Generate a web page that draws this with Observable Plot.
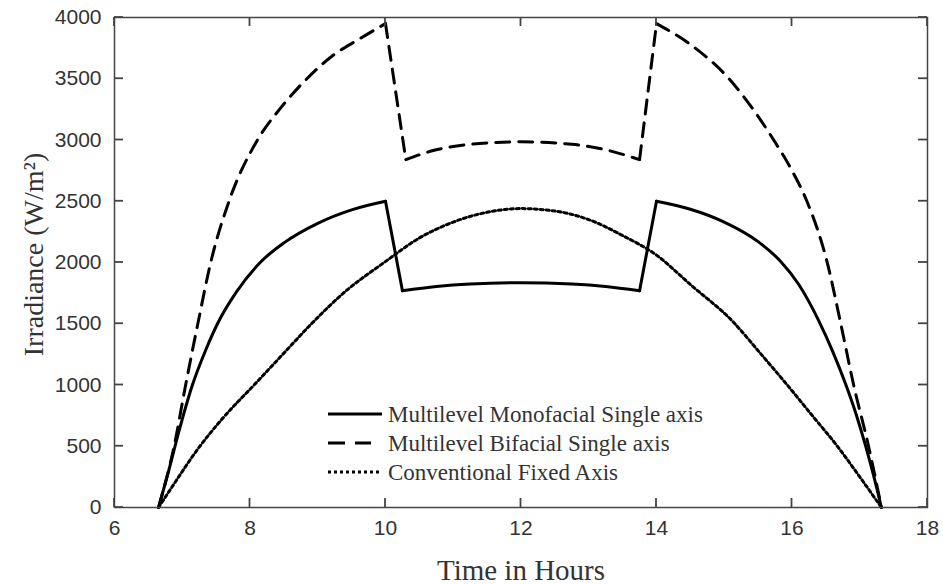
<!DOCTYPE html>
<html>
<head>
<meta charset="utf-8">
<script src="https://cdn.jsdelivr.net/npm/d3@7"></script>
<script src="https://cdn.jsdelivr.net/npm/@observablehq/plot@0.6"></script>
<style>
  html, body { margin: 0; padding: 0; background: #fff; }
  #chart { position: relative; width: 943px; height: 584px; }
</style>
</head>
<body>
<div id="chart"></div>
<script>
// ---- data ----
const seriesNames = [
  "Multilevel Monofacial Single axis",
  "Multilevel Bifacial Single axis",
  "Conventional Fixed Axis"
];

const monoHours  = [6.65, 6.8, 6.95, 7.15, 7.35, 7.52, 7.8, 8.15, 8.5, 9.0, 9.5, 10.0, 10.25, 10.75, 11.25, 12.0, 12.75, 13.25, 13.75, 14.0, 14.5, 15.0, 15.5, 15.83, 16.1, 16.39, 16.6, 16.79, 16.95, 17.08, 17.2, 17.32];
const monoValues = [0, 300, 620, 1000, 1290, 1500, 1760, 2000, 2160, 2320, 2430, 2500, 1770, 1805, 1825, 1835, 1825, 1805, 1770, 2500, 2435, 2330, 2170, 2010, 1820, 1530, 1275, 1010, 755, 515, 270, 0];
const monoCorners = [10.0, 10.25, 13.75, 14.0];

const bifHours  = [6.65, 6.88, 7.05, 7.23, 7.42, 7.69, 8.11, 8.45, 8.84, 9.2, 9.6, 10.0, 10.3, 10.75, 11.25, 12.0, 12.75, 13.25, 13.75, 14.0, 14.5, 15.07, 15.4, 15.73, 16.0, 16.22, 16.52, 16.72, 16.91, 17.13, 17.32];
const bifValues = [0, 500, 1000, 1500, 2000, 2500, 3000, 3260, 3500, 3680, 3820, 3950, 2840, 2920, 2965, 2985, 2965, 2920, 2840, 3950, 3780, 3500, 3270, 3000, 2750, 2500, 2000, 1500, 1000, 500, 0];
const bifCorners = [10.0, 10.3, 13.75, 14.0];

const fixHours  = [6.65, 6.9, 7.22, 7.6, 8.06, 8.5, 8.89, 9.4, 9.98, 10.5, 11.0, 11.5, 12.0, 12.5, 13.0, 13.5, 14.0, 14.5, 15.14, 15.5, 15.93, 16.3, 16.67, 17.0, 17.32];
const fixValues = [0, 210, 470, 730, 1000, 1260, 1490, 1760, 2000, 2200, 2330, 2410, 2440, 2420, 2350, 2220, 2060, 1820, 1510, 1280, 1000, 750, 500, 250, 0];
const fixCorners = [];

const xTicks = [6, 8, 10, 12, 14, 16, 18];
const yTicks = [0, 500, 1000, 1500, 2000, 2500, 3000, 3500, 4000];

const xLabel = "Time in Hours";
const yLabel = "Irradiance (W/m²)";

// ---- build tables: split each series into smooth pieces at its corners ----
function toRows(hs, vs, corners, name) {
  const rows = [];
  let seg = 0;
  hs.forEach((h, i) => {
    rows.push({hour: h, value: vs[i], series: name, seg: name + seg});
    if (corners.includes(h) && i > 0 && i < hs.length - 1) {
      seg++;
      rows.push({hour: h, value: vs[i], series: name, seg: name + seg});
    }
  });
  return rows;
}
const mono = toRows(monoHours, monoValues, monoCorners, seriesNames[0]);
const bif  = toRows(bifHours,  bifValues,  bifCorners,  seriesNames[1]);
const fix  = toRows(fixHours,  fixValues,  fixCorners,  seriesNames[2]);

const dashes = [null, "14,9", "3,3"];
const legendDashes = [null, "17,10,16,200", "3,3"];

const axisColor = "#444";
const textColor = "#333";
const sans = "Liberation Sans, Arial, sans-serif";
const serif = "Liberation Serif, Times New Roman, serif";

const chart = Plot.plot({
  width: 943,
  height: 584,
  marginLeft: 114,
  marginRight: 16,
  marginTop: 17,
  marginBottom: 77,
  style: {background: "#fff", overflow: "visible"},
  x: {domain: [6, 18]},
  y: {domain: [0, 4000]},
  marks: [
    // tick labels
    Plot.axisX(xTicks, {anchor: "bottom", tickSize: 0, tickPadding: 13, label: null, tickFormat: d => String(d), fontSize: 21, fontFamily: sans, color: textColor}),
    Plot.axisY(yTicks, {anchor: "left", tickSize: 0, tickPadding: 13, label: null, tickFormat: d => String(d), fontSize: 21, fontFamily: sans, color: textColor}),
    // series
    Plot.line(mono, {x: "hour", y: "value", z: "seg", curve: "monotone-x", stroke: "#000", strokeWidth: 3, strokeLinejoin: "round"}),
    Plot.line(bif,  {x: "hour", y: "value", z: "seg", curve: "monotone-x", stroke: "#000", strokeWidth: 3, strokeDasharray: dashes[1]}),
    Plot.line(fix,  {x: "hour", y: "value", z: "seg", curve: "monotone-x", stroke: "#000", strokeWidth: 3, strokeDasharray: dashes[2]}),
    Plot.frame({stroke: axisColor, strokeWidth: 1.5}),
    // axis titles
    Plot.text([xLabel], {frameAnchor: "bottom", lineAnchor: "bottom", textAnchor: "middle", dy: 72, fontSize: 29, fontFamily: serif, fill: textColor}),
    Plot.text([yLabel], {frameAnchor: "left", lineAnchor: "middle", textAnchor: "middle", dx: -80, dy: -8, rotate: -90, fontSize: 28, fontFamily: serif, fill: textColor})
  ]
});

document.getElementById("chart").appendChild(chart);

const svg = d3.select(chart);
const sx = chart.scale("x"), sy = chart.scale("y");
const L = 9;

// ---- inward tick marks on all four sides, placed through Plot's scales ----
const tg = svg.append("g").attr("class", "inner-ticks")
  .attr("stroke", axisColor).attr("stroke-width", 1.8);
const xMin = sx.apply(sx.domain[0]), xMax = sx.apply(sx.domain[1]);
const yMin = sy.apply(sy.domain[0]), yMax = sy.apply(sy.domain[1]);
xTicks.forEach(t => {
  const px = sx.apply(t);
  tg.append("line").attr("x1", px).attr("x2", px).attr("y1", yMin).attr("y2", yMin - L);
  tg.append("line").attr("x1", px).attr("x2", px).attr("y1", yMax).attr("y2", yMax + L);
});
yTicks.forEach(t => {
  const py = sy.apply(t);
  tg.append("line").attr("y1", py).attr("y2", py).attr("x1", xMin).attr("x2", xMin + L);
  tg.append("line").attr("y1", py).attr("y2", py).attr("x1", xMax).attr("x2", xMax - L);
});

// ---- legend (inside plot area, no box) ----
const lg = svg.append("g").attr("class", "legend");
const lx0 = 328, lx1 = 382, ltx = 388, ly0 = 414, ldy = 29;
seriesNames.forEach((name, i) => {
  const y = ly0 + i * ldy;
  lg.append("line")
    .attr("x1", lx0).attr("x2", lx1).attr("y1", y).attr("y2", y)
    .attr("stroke", "#000").attr("stroke-width", 3)
    .attr("stroke-dasharray", legendDashes[i]);
  lg.append("text")
    .attr("x", ltx).attr("y", y).attr("dy", "0.35em")
    .attr("text-anchor", "start")
    .attr("font-family", serif)
    .attr("font-size", 23)
    .attr("fill", textColor)
    .text(name);
});
</script>
</body>
</html>
